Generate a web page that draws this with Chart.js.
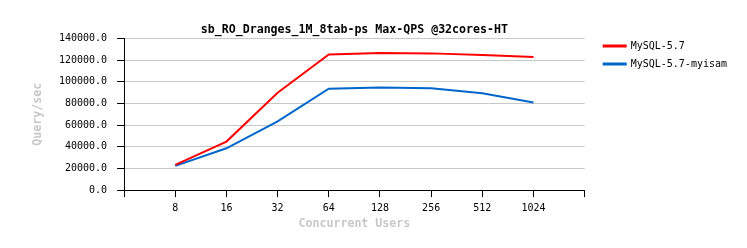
<!DOCTYPE html>
<html>
<head>
<meta charset="utf-8">
<script src="https://cdn.jsdelivr.net/npm/chart.js@4/dist/chart.umd.min.js"></script>
<style>
  body { margin: 0; background: #fff; }
</style>
</head>
<body>
<canvas id="myChart" width="747" height="248"></canvas>
<script>
// concurrency levels on the x axis
var users = ['8', '16', '32', '64', '128', '256', '512', '1024'];
// Max QPS per engine
var mysql57 = [23300, 44800, 89900, 125200, 126500, 126200, 124700, 122800];
var mysql57Myisam = [22400, 38600, 63400, 93600, 94800, 94000, 89300, 80800];
var yTicks = [0, 20000, 40000, 60000, 80000, 100000, 120000, 140000];

document.addEventListener('DOMContentLoaded', function () {
    var mono = 'DejaVu Sans Mono';
    // blank slot on both ends of the axis, like the original
    var labels = [''].concat(users, ['']);
    function pad(arr) { return [null].concat(arr, [null]); }

    var ctx = document.getElementById('myChart').getContext('2d');
    var chart = new Chart(ctx, {
        type: 'line',
        data: {
            labels: labels,
            datasets: [{
                label: 'MySQL-5.7',
                data: pad(mysql57),
                borderColor: '#ff0000',
                backgroundColor: '#ff0000',
                borderWidth: 2,
                pointRadius: 0,
                tension: 0
            }, {
                label: 'MySQL-5.7-myisam',
                data: pad(mysql57Myisam),
                borderColor: '#0066cc',
                backgroundColor: '#0066cc',
                borderWidth: 2,
                pointRadius: 0,
                tension: 0
            }]
        },
        options: {
            responsive: false,
            animation: false,
            layout: { padding: { top: 0, right: 10, bottom: 19, left: 21 } },
            plugins: {
                title: {
                    display: true,
                    fullSize: false,
                    text: 'sb_RO_Dranges_1M_8tab-ps Max-QPS @32cores-HT',
                    color: '#000',
                    font: { family: mono, size: 11.6, weight: 'bold' },
                    padding: { top: 23.5, bottom: 1 }
                },
                legend: {
                    position: 'right',
                    align: 'start',
                    maxWidth: 200,
                    // empty title only used to push the items down
                    title: {
                        display: true,
                        text: ' ',
                        font: { family: mono, size: 10 },
                        padding: { top: 21, bottom: 0 }
                    },
                    labels: {
                        color: '#000',
                        font: { family: mono, size: 10 },
                        boxWidth: 22,
                        boxHeight: 1,
                        padding: 8
                    }
                },
                tooltip: { enabled: false }
            },
            scales: {
                x: {
                    grid: {
                        drawOnChartArea: false,
                        tickColor: '#000',
                        tickLength: 7
                    },
                    border: { color: '#000' },
                    ticks: {
                        color: '#000',
                        font: { family: mono, size: 10 },
                        maxRotation: 0,
                        autoSkip: false,
                        padding: 5
                    },
                    title: {
                        display: true,
                        text: 'Concurrent Users',
                        color: '#c8c8c8',
                        font: { family: mono, size: 11.6, weight: 'bold', lineHeight: 0.85 },
                        padding: { top: 0, bottom: 0 }
                    }
                },
                y: {
                    min: 0,
                    max: 140000,
                    afterBuildTicks: function (axis) {
                        axis.ticks = yTicks.map(function (v) { return { value: v }; });
                    },
                    grid: {
                        color: '#c8c8c8',
                        tickColor: '#000',
                        tickLength: 7
                    },
                    border: { color: '#000' },
                    ticks: {
                        color: '#000',
                        font: { family: mono, size: 10 },
                        padding: 10,
                        callback: function (v) { return Number(v).toFixed(1); }
                    },
                    title: {
                        display: true,
                        text: 'Query/sec',
                        color: '#c8c8c8',
                        font: { family: mono, size: 11.6, weight: 'bold' },
                        padding: { top: 10, bottom: 4 }
                    }
                },
                // blank spacer between plot and legend
                gap: {
                    position: 'right',
                    grid: { display: false },
                    border: { display: false },
                    ticks: { display: false },
                    afterFit: function (axis) { axis.width = 11; }
                }
            }
        }
    });
});
</script>
</body>
</html>
